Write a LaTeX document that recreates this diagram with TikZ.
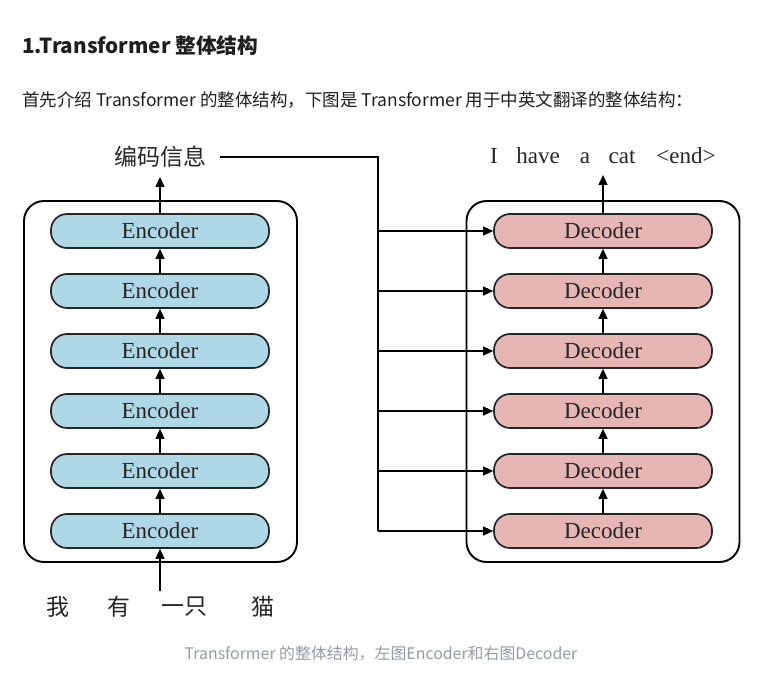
\documentclass[tikz,border=0pt]{standalone}
\usepackage{fontspec}
\usetikzlibrary{arrows.meta}
\newfontfamily\cjk{Noto Sans CJK SC}
\newfontfamily\tms{Liberation Serif}
\definecolor{encblue}{RGB}{174,216,230}
\definecolor{decpink}{RGB}{230,182,180}
\definecolor{capgray}{RGB}{150,155,165}
\definecolor{txtdark}{RGB}{30,30,30}
\tikzset{
  outerbox/.style={draw=black, line width=1.9pt, rounded corners=20pt, minimum width=273pt, minimum height=361pt, inner sep=0pt},
  encbox/.style={draw=black!85, line width=1.7pt, fill=encblue, rounded corners=16pt, minimum width=218pt, minimum height=34pt, inner sep=0pt, font=\tms\fontsize{23}{25}\selectfont, text=black!85},
  decbox/.style={encbox, fill=decpink},
  arr/.style={line width=1.4pt, -{Triangle[length=10pt,width=9pt]}},
  plain/.style={line width=1.4pt},
  cjklab/.style={font=\cjk\fontsize{23}{25}\selectfont, text=black!85, inner sep=0pt},
  wordlab/.style={font=\tms\fontsize{23}{25}\selectfont, text=black!85, inner sep=0pt, anchor=base},
}
\begin{document}
\begin{tikzpicture}[x=1pt,y=-1pt]
\useasboundingbox (0,0) rectangle (757,676);
\fill[white] (0,0) rectangle (757,676);
% heading texts
\node[anchor=base west, inner sep=0pt, font=\cjk\bfseries\fontsize{20.7}{24}\selectfont, text=txtdark] (title) at (22,54) {1.Transformer 整体结构};
\node[anchor=base west, inner sep=0pt, font=\cjk\fontsize{17.5}{20}\selectfont, text=txtdark] (intro) at (22,107) {首先介绍 Transformer 的整体结构，下图是 Transformer 用于中英文翻译的整体结构：};
\node[anchor=base, inner sep=0pt, font=\cjk\fontsize{15.9}{18}\selectfont, text=capgray] (cap) at (381,659) {Transformer 的整体结构，左图Encoder和右图Decoder};
% outer boxes
\node[outerbox] (lbox) at (160.5,381.5) {};
\node[outerbox] (rbox) at (603,381.5) {};
% encoders and decoders
\foreach \i/\y in {1/231,2/291,3/351,4/411,5/471,6/531}{
  \node[encbox] (e\i) at (160,\y) {Encoder};
  \node[decbox] (d\i) at (603,\y) {Decoder};
  \coordinate (j\i) at (378,\y);
}
\foreach \a/\b in {6/5,5/4,4/3,3/2,2/1}{
  \draw[arr] (e\a.north) -- (e\b.south);
  \draw[arr] (d\a.north) -- (d\b.south);
}
% top labels
\node[cjklab, inner ysep=9pt, inner xsep=14pt] (code) at (160,157) {编码信息};
\draw[arr] (e1.north) -- (code.south);
\node[wordlab] (w1) at (494,164) {I};
\node[wordlab] (w2) at (538,164) {have};
\node[wordlab] (w3) at (585,164) {a};
\node[wordlab] (w4) at (622,164) {cat};
\node[wordlab] (w5) at (686,164) {<end>};
\coordinate (dtop) at (603,175);
\draw[arr] (d1.north) -- (dtop);
% input
\coordinate (inp) at (160,591);
\draw[arr] (inp) -- (e6.south);
\node[cjklab] (c1) at (58,607) {我};
\node[cjklab] (c2) at (119,607) {有};
\node[cjklab] (c3) at (184,607) {一只};
\node[cjklab] (c4) at (263,607) {猫};
% encoder output to decoders
\coordinate (jt) at (378,157);
\draw[plain] (code.east) -- (jt) -- (j6);
\foreach \i in {1,...,6}{
  \draw[arr] (j\i) -- (d\i.west);
}
\end{tikzpicture}
\end{document}
